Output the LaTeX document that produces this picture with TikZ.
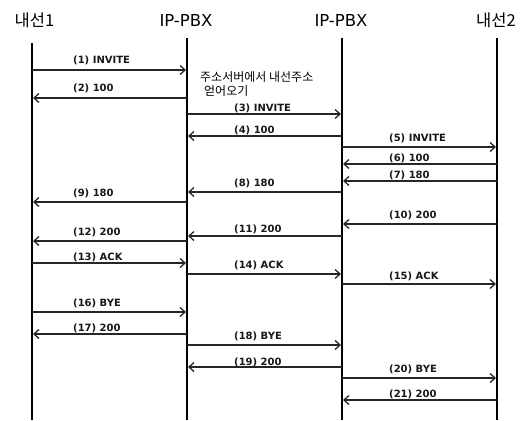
\documentclass[tikz,border=0pt]{standalone}
\usepackage{fontspec}
\setmainfont{Noto Sans CJK KR}
\newfontfamily\hdrlat{DejaVu Sans}
\newfontfamily\lblfont{DejaVu Sans}
\usetikzlibrary{arrows.meta}
\tikzset{
  hdr/.style={font=\fontsize{16.5}{18}\selectfont, inner sep=0pt},
  life/.style={line width=2pt, black},
  msg/.style={line width=1.3pt, black!85, -{Straight Barb[length=5pt,width=9pt,line width=1.3pt]}, shorten >=1pt},
  lbl/.style={font=\lblfont\bfseries\fontsize{10}{12}\selectfont, anchor=west, inner sep=0pt, text=black!90},
  note/.style={font=\fontsize{12}{14}\selectfont, anchor=west, inner sep=0pt}
}
\begin{document}
\begin{tikzpicture}[x=1pt,y=-1pt]
\useasboundingbox[fill=white] (0,0) rectangle (527,420);
% headers
\node[hdr] (h1) at (34.5,20) {내선1};
\node[hdr] (h2) at (186,20) {\hdrlat IP-PBX};
\node[hdr] (h3) at (341,20) {\hdrlat IP-PBX};
\node[hdr] (h4) at (496,20) {내선2};
% lifelines
\coordinate (t1) at (32,43);  \coordinate (b1) at (32,420);
\coordinate (t2) at (187,38); \coordinate (b2) at (187,420);
\coordinate (t3) at (342,38); \coordinate (b3) at (342,420);
\coordinate (t4) at (497,38); \coordinate (b4) at (497,420);
\foreach \i in {1,...,4} \draw[life] (t\i) -- (b\i);
% label x positions per segment
\coordinate (lx1) at (73,0);
\coordinate (lx2) at (234,0);
\coordinate (lx3) at (389,0);
% messages: from/to/arrow y/label y/segment/text
\foreach \a/\b/\y/\ly/\s/\t in {
  1/2/70/60/1/(1) INVITE,
  2/1/98/88/1/(2) 100,
  2/3/114/108/2/(3) INVITE,
  3/2/136/130/2/(4) 100,
  3/4/147/138/3/(5) INVITE,
  4/3/164/158/3/(6) 100,
  4/3/181/175/3/(7) 180,
  3/2/192/183/2/(8) 180,
  2/1/202/193/1/(9) 180,
  4/3/224/215/3/(10) 200,
  3/2/236/229/2/(11) 200,
  2/1/241/232/1/(12) 200,
  1/2/263/257/1/(13) ACK,
  2/3/274/265/2/(14) ACK,
  3/4/284/276/3/(15) ACK,
  1/2/312/303/1/(16) BYE,
  2/1/334/328/1/(17) 200,
  2/3/345/336/2/(18) BYE,
  3/2/367/362/2/(19) 200,
  3/4/378/369/3/(20) BYE,
  4/3/400/394/3/(21) 200}
{
  \draw[msg] (t\a |- 0,\y) -- (t\b |- 0,\y);
  \node[lbl] (m\t) at (lx\s |- 0,\ly) {\t};
}
% note
\node[note] (n1) at (200,77) {주소서버에서 내선주소};
\node[note] (n2) at (204,91) {얻어오기};
\end{tikzpicture}
\end{document}
